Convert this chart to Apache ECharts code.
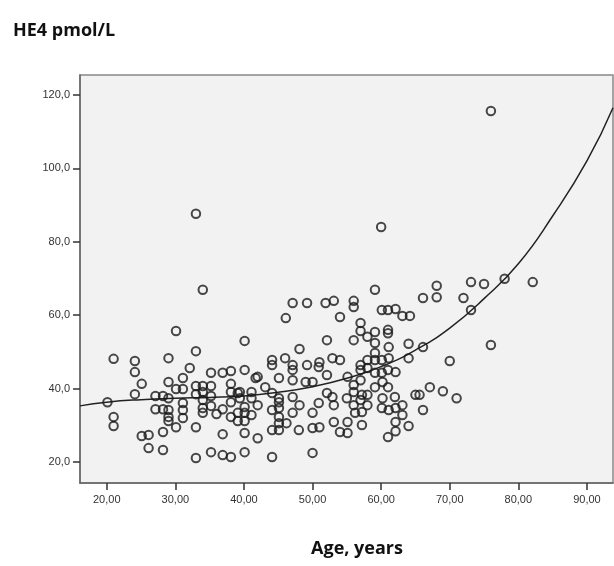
<!DOCTYPE html>
<html>
<head>
<meta charset="utf-8">
<script src="https://cdn.jsdelivr.net/npm/echarts@6/dist/echarts.min.js"></script>
<style>
  html, body { margin: 0; padding: 0; background: #fff; }
  #main { width: 614px; height: 566px; }
</style>
</head>
<body>
<div id="main"></div>
<script>
// age (years) and HE4 (pmol/L)
const ages = [
  33.0, 34.0, 60.0, 76.0, 78.0, 82.1, 76.0, 68.1, 66.1, 68.1, 73.1, 75.0, 72.0, 73.1, 66.1, 70.0, 67.1, 69.0, 71.0, 66.1, 65.6,
  59.1, 47.1, 49.2, 51.9, 53.1, 56.0, 56.0, 46.1, 54.0, 60.1, 61.0, 62.1, 63.1, 64.2, 57.0, 61.0, 61.0, 57.0, 58.0, 59.1,
  56.0, 52.1, 40.1, 59.1, 61.1, 64.0, 48.1, 59.1, 58.0, 59.1, 60.1, 61.1, 64.0, 44.1, 44.1, 46.0, 47.1, 47.1, 51.0, 52.9,
  54.0, 50.9, 49.2, 40.1, 42.0, 45.1, 47.1, 49.0, 50.0, 52.1, 57.0, 57.0, 58.0, 59.1, 60.1, 61.0, 62.1, 57.0, 60.2, 55.1,
  56.0, 39.4, 41.1, 41.1, 39.4, 44.1, 45.1, 45.1, 47.1, 52.1, 52.9, 55.0, 56.0, 57.2, 58.0, 60.2, 62.0, 65.0, 40.1, 42.0,
  44.1, 45.1, 45.1, 45.1, 45.1, 44.1, 46.2, 48.0, 50.0, 51.0, 50.0, 50.9, 53.1, 53.1, 54.0, 55.1, 55.1, 56.2, 57.2, 57.2,
  56.0, 60.1, 61.1, 62.1, 63.1, 63.1, 62.1, 64.0, 62.1, 61.0, 40.1, 42.0, 40.1, 44.1, 50.0,
  30.1, 21.0, 24.1, 24.1, 29.0, 33.0, 32.1, 25.1, 24.1, 29.0, 31.1, 30.1, 31.1, 35.2, 36.9, 38.1, 41.7, 33.0, 34.0, 35.2,
  38.1, 20.1, 21.0, 21.0, 27.1, 28.2, 29.0, 27.1, 28.2, 29.0, 29.0, 29.0, 31.1, 31.1, 31.1, 30.1, 33.0, 34.0, 34.0, 34.0,
  34.0, 35.2, 35.2, 36.0, 36.9, 38.1, 38.1, 39.1, 39.1, 39.1, 40.1, 41.1, 33.0, 36.9, 25.1, 26.1, 28.2, 26.1, 28.2, 33.0,
  35.2, 36.9, 38.1, 40.1, 38.1, 59.1, 58.0, 57.0, 61.0, 47.1, 48.1, 43.1
];
const he4 = [
  87.6, 66.9, 84.0, 115.6, 69.9, 69.0, 51.9, 68.0, 64.7, 64.9, 69.0, 68.5, 64.7, 61.4, 51.3, 47.5, 40.4, 39.3, 37.4, 34.2, 38.3,
  66.9, 63.3, 63.3, 63.3, 63.9, 63.9, 62.2, 59.2, 59.5, 61.4, 61.4, 61.7, 59.8, 59.8, 57.9, 56.0, 55.1, 55.7, 54.1, 55.4,
  53.2, 53.2, 53.0, 52.4, 51.3, 52.2, 50.8, 49.7, 47.8, 47.8, 47.8, 48.3, 48.3, 47.8, 46.4, 48.3, 46.4, 45.1, 47.2, 48.3,
  47.8, 45.9, 46.4, 45.1, 43.2, 42.9, 42.3, 41.8, 41.8, 43.7, 46.4, 45.1, 45.6, 44.3, 44.3, 45.1, 44.5, 42.3, 41.8, 43.2,
  41.0, 39.1, 39.1, 37.4, 37.4, 38.8, 37.4, 36.3, 37.7, 38.8, 37.7, 37.4, 39.1, 38.3, 38.3, 37.4, 37.7, 38.3, 35.0, 35.5,
  34.2, 34.7, 32.3, 30.6, 28.7, 28.7, 30.6, 28.7, 33.4, 29.5, 29.3, 36.1, 35.5, 30.9, 28.2, 27.9, 30.9, 33.4, 33.6, 30.1,
  35.5, 34.7, 34.2, 34.7, 32.8, 35.5, 30.9, 29.8, 28.4, 26.8, 27.9, 26.5, 22.7, 21.4, 22.5,
  55.7, 48.1, 47.5, 44.5, 48.3, 50.2, 45.6, 41.3, 38.5, 41.8, 42.9, 39.9, 39.9, 44.3, 44.3, 44.8, 42.9, 40.7, 40.7, 40.7,
  41.3, 36.3, 32.3, 29.8, 38.0, 38.0, 37.4, 34.4, 34.4, 34.2, 32.3, 31.2, 36.1, 34.2, 32.0, 29.5, 38.5, 39.1, 36.9, 34.7,
  33.4, 38.0, 35.3, 33.1, 34.4, 36.3, 32.3, 38.8, 33.4, 31.2, 31.2, 32.8, 29.5, 27.6, 27.1, 27.4, 28.2, 23.8, 23.3, 21.1,
  22.7, 21.9, 21.4, 33.4, 39.1, 40.4, 35.5, 36.9, 40.4, 33.4, 35.5, 40.4
];

// fitted curve
const fitAge = [16.1, 20, 25, 30, 35, 40, 45, 50, 55, 60, 65, 70, 75, 80, 85, 90, 93.8];
const fitHe4 = [35.3, 36.3, 37.0, 37.4, 37.6, 38.0, 39.0, 40.5, 42.8, 46.0, 50.5, 56.5, 64.5, 74.0, 87.0, 102.0, 116.5];

const xTicks = [20, 30, 40, 50, 60, 70, 80, 90];
const yTicks = [20, 40, 60, 80, 100, 120];

const points = ages.map((a, i) => [a, he4[i]]);
const curve = fitAge.map((a, i) => [a, fitHe4[i]]);

const myChart = echarts.init(document.getElementById('main'));
const font = '"Liberation Sans", Arial, sans-serif';

myChart.setOption({
  animation: false,
  title: [
    {
      text: 'HE4 pmol/L', left: 8, top: 17,
      textStyle: { fontFamily: '"Open Sans", sans-serif', fontWeight: 'bold', fontSize: 18, color: '#111' }
    },
    {
      text: 'Age, years', left: 352, top: 535, textAlign: 'center',
      textStyle: { fontFamily: '"Open Sans", sans-serif', fontWeight: 'bold', fontSize: 18, color: '#111' }
    }
  ],
  grid: {
    left: 80, top: 75, right: 1, bottom: 83,
    show: true, backgroundColor: '#f2f2f2', borderColor: '#888', borderWidth: 1.5
  },
  xAxis: {
    type: 'value', min: 16.1, max: 93.8,
    axisLine: { show: true, lineStyle: { color: '#666', width: 1.5 } },
    axisTick: { show: true, customValues: xTicks, length: 7, lineStyle: { color: '#333', width: 1.5 } },
    axisLabel: {
      customValues: xTicks, margin: 11, color: '#333', fontSize: 11, fontFamily: font,
      formatter: v => v.toFixed(2).replace('.', ',')
    },
    splitLine: { show: false }
  },
  yAxis: {
    type: 'value', min: 14.3, max: 125.4,
    axisLine: { show: true, lineStyle: { color: '#666', width: 1.5 } },
    axisTick: { show: true, customValues: yTicks, length: 7, lineStyle: { color: '#333', width: 1.5 } },
    axisLabel: {
      customValues: yTicks, margin: 10, color: '#333', fontSize: 11, fontFamily: font,
      formatter: v => v.toFixed(1).replace('.', ',')
    },
    splitLine: { show: false }
  },
  series: [
    {
      type: 'line', data: curve, smooth: true, showSymbol: false, z: 1,
      lineStyle: { color: '#222', width: 1.5 }
    },
    {
      type: 'scatter', data: points, symbol: 'circle', symbolSize: 8.5, z: 2,
      itemStyle: { color: 'rgba(0,0,0,0)', borderColor: '#1a1a1a', borderWidth: 2 }
    }
  ]
});
</script>
</body>
</html>
